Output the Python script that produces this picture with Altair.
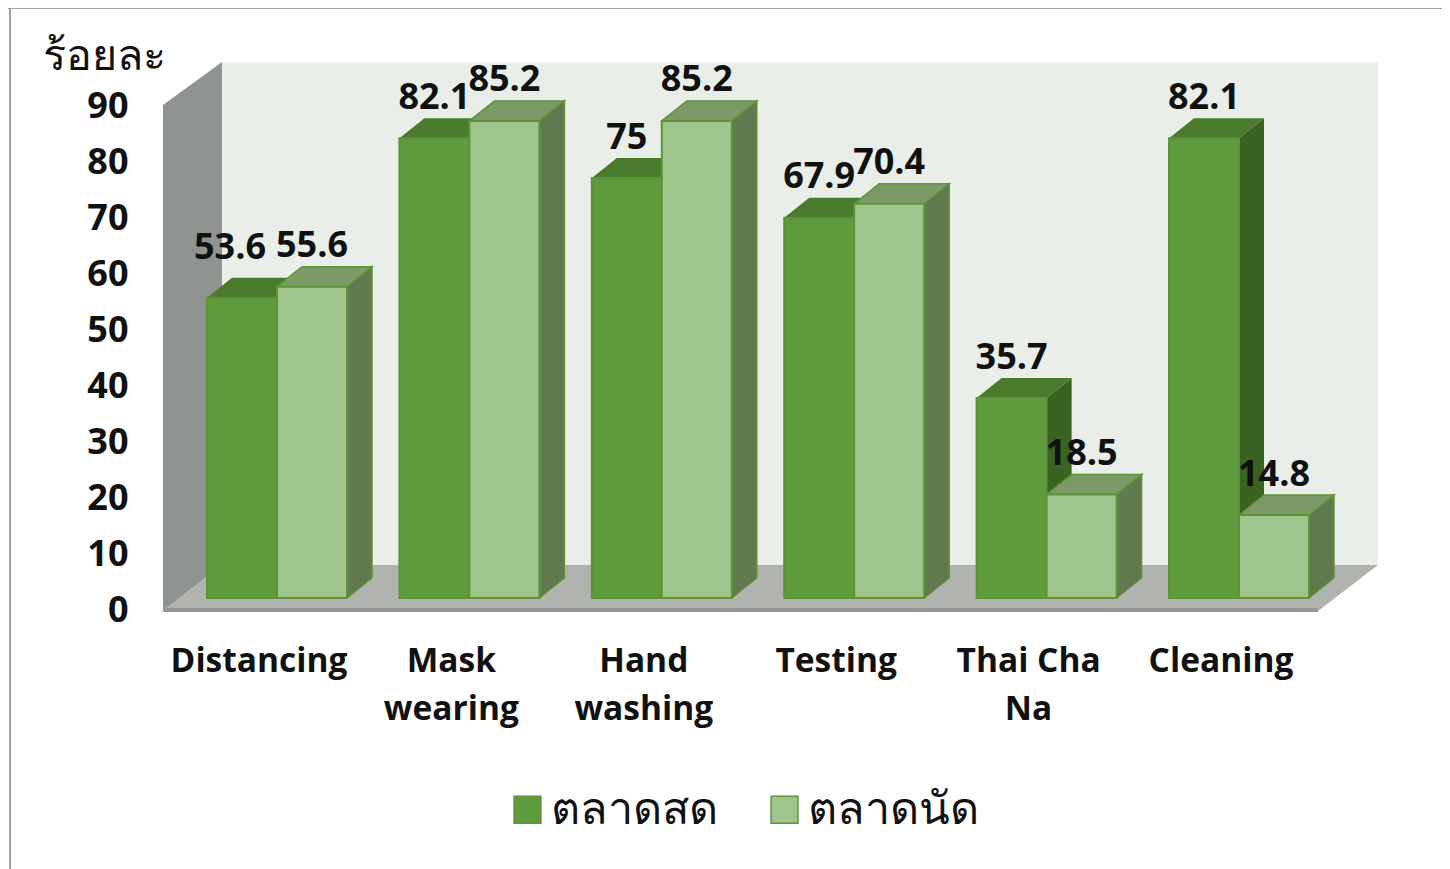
import altair as alt
import pandas as pd

categories = ["Distancing", "Mask\nwearing", "Hand\nwashing", "Testing", "Thai Cha\nNa", "Cleaning"]
fresh_market = [53.6, 82.1, 75, 67.9, 35.7, 82.1]
pop_up_market = [55.6, 85.2, 85.2, 70.4, 18.5, 14.8]
series_names = ["ตลาดสด", "ตลาดนัด"]
y_ticks = [0, 10, 20, 30, 40, 50, 60, 70, 80, 90]
y_title = "ร้อยละ"

# ---- projection of the pseudo-3D box, in scale units
PX_X = 192.4          # px per category
PX_Y = 5.6            # px per value unit
LEFT0, ZERO = 207, 609  # image px of first bar's left edge, and axis value 0
W, H = 1434, 861
x_dom = [(8 - LEFT0) / PX_X, (8 + W - LEFT0) / PX_X]
y_dom = [(ZERO - 8 - H) / PX_Y, (ZERO - 8) / PX_Y]
ux = lambda p: (p - LEFT0) / PX_X
uy = lambda p: (ZERO - p) / PX_Y

BASE = uy(598)
DEPTH_X = 25 / PX_X
DEPTH_Y = 20 / PX_Y
BAR = 70 / PX_X
LABEL_RISE = 40.5 / PX_Y
FONT = "Open Sans"
EDGE = "#5c9438"

x_scale = alt.Scale(domain=x_dom, nice=False, zero=False)
y_scale = alt.Scale(domain=y_dom, nice=False, zero=False)

tick_shift = (258.5 - LEFT0) / PX_X
x_values = [i + tick_shift for i in range(len(categories))]
cat_js = "[" + ",".join("'" + c.replace("\n", "\\n") + "'" for c in categories) + "]"
x_axis = alt.Axis(
    values=x_values,
    labelExpr=f"split({cat_js}[round(datum.value - {tick_shift})], '\\n')",
    orient="bottom",
    offset=-(869 - 645),
    ticks=False,
    domain=False,
    grid=False,
    title=None,
    labelFont=FONT,
    labelFontSize=33.5,
    labelFontWeight=700,
    labelColor="#111111",
    labelPadding=0,
    labelLineHeight=48,
    labelOverlap=False,
    labelFlush=False,
)
y_axis = alt.Axis(
    values=y_ticks,
    orient="left",
    offset=-(128 - 8),
    ticks=False,
    domain=False,
    grid=False,
    labelFont=FONT,
    labelFontSize=36,
    labelFontWeight=700,
    labelColor="#111111",
    labelPadding=0,
    labelOffset=1.5,
    labelOverlap=False,
    labelFlush=False,
    title=y_title,
    titleAngle=0,
    titleX=-24,
    titleY=48,
    titleAlign="center",
    titleBaseline="middle",
    titleFont=FONT,
    titleFontSize=43,
    titleFontWeight=500,
    titleColor="#111111",
)
X = alt.X("x:Q", scale=x_scale, axis=x_axis)
Y = alt.Y("y:Q", scale=y_scale, axis=y_axis, stack=None)
Y2 = alt.Y2("y2:Q")


def area(rows, fill, edge=None):
    kw = {"color": fill}
    if edge:
        kw.update(stroke=edge, strokeWidth=1.5)
    return alt.Chart(pd.DataFrame(rows)).mark_area(**kw).encode(
        x=X, y=Y, y2=Y2, detail="g:N"
    )


def box_faces(values, shift):
    side, top = [], []
    for i, v in enumerate(values):
        l = i + shift
        r = l + BAR
        t = BASE + v
        side += [
            {"g": i, "x": r, "y": t, "y2": BASE},
            {"g": i, "x": r + DEPTH_X, "y": t + DEPTH_Y, "y2": BASE + DEPTH_Y},
        ]
        top += [
            {"g": i, "x": l, "y": t, "y2": t},
            {"g": i, "x": l + DEPTH_X, "y": t + DEPTH_Y, "y2": t},
            {"g": i, "x": r, "y": t + DEPTH_Y, "y2": t},
            {"g": i, "x": r + DEPTH_X, "y": t + DEPTH_Y, "y2": t + DEPTH_Y},
        ]
    return side, top


# walls and floor
wall_l, wall_r = ux(163), ux(222)
floor_r0, floor_r1 = ux(1318), ux(1378)
left_wall = area(
    [
        {"g": 0, "x": wall_l, "y": uy(105), "y2": uy(611)},
        {"g": 0, "x": wall_r, "y": uy(62), "y2": uy(565)},
    ],
    "#8f9490",
)
back_wall = area(
    [
        {"g": 0, "x": wall_r, "y": uy(62), "y2": uy(565)},
        {"g": 0, "x": floor_r1, "y": uy(62), "y2": uy(565)},
    ],
    "#e9efe8",
)
floor = area(
    [
        {"g": 0, "x": wall_l, "y": uy(611), "y2": uy(611)},
        {"g": 0, "x": wall_r, "y": uy(565), "y2": uy(611)},
        {"g": 0, "x": floor_r0, "y": uy(565), "y2": uy(611)},
        {"g": 0, "x": floor_r1, "y": uy(565), "y2": uy(565)},
    ],
    "#b1b4ae",
)
floor_edge = area(
    [
        {"g": 0, "x": wall_l, "y": uy(608), "y2": uy(612)},
        {"g": 0, "x": floor_r0, "y": uy(608), "y2": uy(612)},
    ],
    "#959793",
)

# page border (top and left)
border_top = alt.Chart(pd.DataFrame({"a": [0]})).mark_rule(color="#a0a0a0", strokeWidth=2).encode(
    x=alt.value(0), x2=alt.value(W), y=alt.value(0)
)
border_left = alt.Chart(pd.DataFrame({"a": [0]})).mark_rule(color="#a0a0a0", strokeWidth=2).encode(
    x=alt.value(2), y=alt.value(0), y2=alt.value(H)
)

dark_side, dark_top = box_faces(fresh_market, 0)
light_side, light_top = box_faces(pop_up_market, BAR)

front_rows = []
for i, c in enumerate(categories):
    front_rows.append({"x": i, "x2": i + BAR, "y": BASE + fresh_market[i], "y2": BASE, "s": series_names[0]})
    front_rows.append({"x": i + BAR, "x2": i + 2 * BAR, "y": BASE + pop_up_market[i], "y2": BASE, "s": series_names[1]})

fronts = alt.Chart(pd.DataFrame(front_rows)).mark_bar(stroke=EDGE, strokeWidth=2).encode(
    x=X,
    x2="x2:Q",
    y=Y,
    y2=Y2,
    fill=alt.Fill(
        "s:N",
        scale=alt.Scale(domain=series_names, range=["#5f9a3c", "#a0c58c"]),
        sort=series_names,
        legend=alt.Legend(
            title=None,
            orient="none",
            legendX=505 - 8,
            legendY=787 - 8,
            direction="horizontal",
            symbolType="square",
            symbolSize=720,
            symbolStrokeWidth=1.5,
            labelFont=FONT,
            labelFontSize=45,
            labelLimit=400,
            labelColor="#111111",
            labelOffset=1,
            columnPadding=44,
        ),
    ),
)

label_rows = []
for i in range(len(categories)):
    nudge_x, nudge_y = (-12, 9) if i == 0 else (0, 0)
    label_rows.append({"x": i + BAR / 2 + nudge_x / PX_X, "y": BASE + fresh_market[i] + LABEL_RISE + nudge_y / PX_Y, "t": f"{fresh_market[i]:g}"})
    label_rows.append({"x": i + 1.5 * BAR, "y": BASE + pop_up_market[i] + LABEL_RISE, "t": f"{pop_up_market[i]:g}"})
labels = alt.Chart(pd.DataFrame(label_rows)).mark_text(
    font=FONT, fontSize=36, fontWeight=700, color="#111111", baseline="middle", align="center"
).encode(x=X, y=Y, text="t:N")

chart = alt.layer(
    back_wall,
    left_wall,
    floor,
    floor_edge,
    area(dark_side, "#3a6221"),
    area(dark_top, "#4a7a2b"),
    area(light_side, "#60794f", EDGE),
    area(light_top, "#7c9a68", EDGE),
    fronts,
    labels,
    border_top,
    border_left,
).properties(
    width=W, height=H, padding=0, autosize=alt.AutoSizeParams(type="none"), background="white"
).configure_view(stroke=None)

chart.save("out.html", embed_options={"renderer": "svg", "actions": False})
